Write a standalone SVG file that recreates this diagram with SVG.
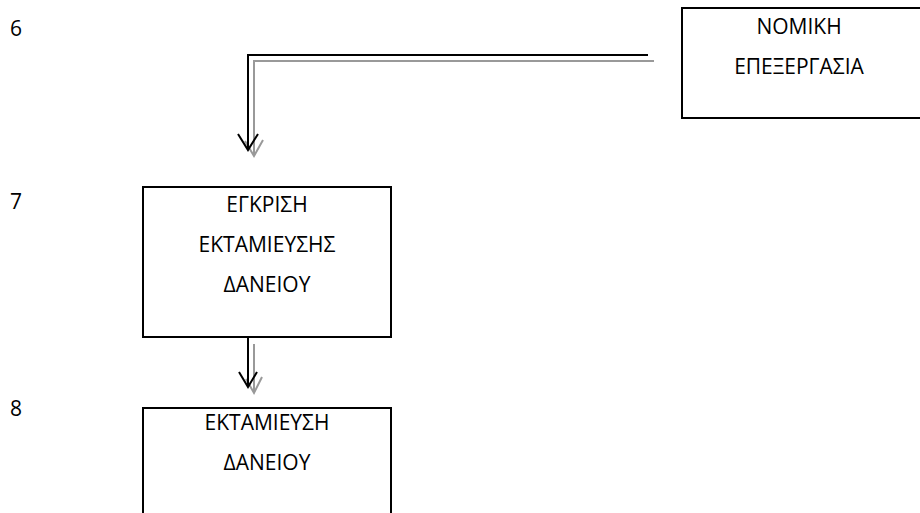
<svg xmlns="http://www.w3.org/2000/svg" width="920" height="513" viewBox="0 0 920 513">
  <style>
    .box { fill: #ffffff; stroke: #000000; stroke-width: 2; }
    .lbl { font-family: "Open Sans", "Noto Sans", "DejaVu Sans", sans-serif; font-size: 21px; fill: #000000; text-anchor: middle; }
    .num { font-family: "Open Sans", "Noto Sans", "DejaVu Sans", sans-serif; font-size: 21px; fill: #000000; }
    .blk { fill: none; stroke: #000000; stroke-width: 2; }
    .shd { fill: none; stroke: #999999; stroke-width: 2; }
  </style>
  <rect width="920" height="513" fill="#ffffff"/>

  <!-- step numbers -->
  <g id="steps">
    <text class="num" x="10" y="36">6</text>
    <text class="num" x="10" y="209">7</text>
    <text class="num" x="10" y="416">8</text>
  </g>

  <!-- connectors: black stroke with a grey offset shadow -->
  <g id="connectors">
    <path class="shd" d="M654,61 H254 V156"/>
    <path class="shd" d="M245,141 L254,156 L263,140"/>
    <path class="blk" d="M648,55 H248 V149"/>
    <path class="blk" d="M238,134 L248,150 L258,134"/>

    <path class="shd" d="M254,344 V393"/>
    <path class="shd" d="M246,379 L254,393 L262,377"/>
    <path class="blk" d="M248,338 V387"/>
    <path class="blk" d="M239,372 L248,387 L257,372"/>
  </g>

  <g id="node-nomiki">
    <rect class="box" x="682" y="8" width="240" height="110"/>
    <text class="lbl" x="799" y="34">ΝΟΜΙΚΗ</text>
    <text class="lbl" x="799" y="74">ΕΠΕΞΕΡΓΑΣΙΑ</text>
  </g>

  <g id="node-egkrisi">
    <rect class="box" x="143" y="187" width="248" height="150"/>
    <text class="lbl" x="267" y="212">ΕΓΚΡΙΣΗ</text>
    <text class="lbl" x="267" y="252">ΕΚΤΑΜΙΕΥΣΗΣ</text>
    <text class="lbl" x="267" y="292">ΔΑΝΕΙΟΥ</text>
  </g>

  <g id="node-ektamieusi">
    <rect class="box" x="143" y="408" width="248" height="120"/>
    <text class="lbl" x="267" y="430">ΕΚΤΑΜΙΕΥΣΗ</text>
    <text class="lbl" x="267" y="470">ΔΑΝΕΙΟΥ</text>
  </g>
</svg>
